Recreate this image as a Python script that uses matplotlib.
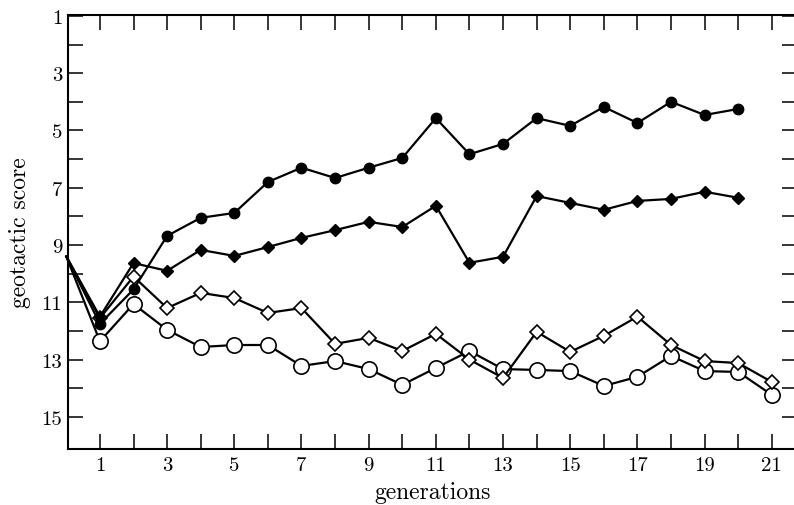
import matplotlib
matplotlib.use("Agg")
import matplotlib.pyplot as plt
from matplotlib.ticker import FixedLocator

plt.rcParams['font.family'] = ['cmr10', 'DejaVu Serif']
plt.rcParams['axes.formatter.use_mathtext'] = True
plt.rcParams['mathtext.fontset'] = 'cm'

generations = list(range(0, 22))

filled_circles = [9.4, 11.75, 10.55, 8.68, 8.05, 7.88, 6.8, 6.3, 6.66, 6.3, 5.96,
                  4.57, 5.83, 5.47, 4.57, 4.84, 4.18, 4.74, 4.0, 4.46, 4.25]
filled_diamonds = [9.4, 11.5, 9.63, 9.9, 9.17, 9.38, 9.07, 8.75, 8.48, 8.19, 8.37,
                   7.63, 9.62, 9.41, 7.29, 7.53, 7.77, 7.46, 7.39, 7.14, 7.35]
open_diamonds = [9.4, 11.55, 10.1, 11.2, 10.67, 10.85, 11.37, 11.2, 12.45, 12.24, 12.7,
                 12.1, 13.0, 13.64, 12.03, 12.73, 12.17, 11.5, 12.49, 13.05, 13.12, 13.78]
open_circles = [9.4, 12.36, 11.06, 11.96, 12.56, 12.49, 12.49, 13.22, 13.05, 13.33, 13.88,
                13.29, 12.7, 13.33, 13.36, 13.4, 13.92, 13.6, 12.87, 13.4, 13.43, 14.23]

x_tick_labels = [1, 3, 5, 7, 9, 11, 13, 15, 17, 19, 21]
y_tick_labels = [1, 3, 5, 7, 9, 11, 13, 15]

fig = plt.figure(figsize=(7.94, 5.06), dpi=100)
ax = fig.add_axes([68 / 794, 56 / 506, (797 - 68) / 794, (450 - 16) / 506])

lw = 1.6


def draw(vals, **kw):
    xs = generations[:len(vals)]
    ax.plot(xs, vals, color='black', lw=lw, markevery=list(range(1, len(vals))),
            clip_on=False, **kw)


draw(open_circles, marker='o', ms=11, mfc='white', mec='black', mew=1.2, zorder=3)
draw(open_diamonds, marker='D', ms=6.8, mfc='white', mec='black', mew=1.2, zorder=4)
draw(filled_diamonds, marker='D', ms=6.5, mfc='black', mec='black', zorder=5)
draw(filled_circles, marker='o', ms=7.5, mfc='black', mec='black', zorder=6)

ax.set_xlim(0.05, 21.75)
ax.set_ylim(16.12, 0.97)

ax.xaxis.set_major_locator(FixedLocator(x_tick_labels))
ax.xaxis.set_minor_locator(FixedLocator([v for v in range(2, 21, 2)]))
ax.yaxis.set_major_locator(FixedLocator(y_tick_labels))
ax.yaxis.set_minor_locator(FixedLocator([v for v in range(2, 16, 2)]))
ax.set_xticklabels([str(v) for v in x_tick_labels])
ax.set_yticklabels([str(v) for v in y_tick_labels])

ax.tick_params(which='both', direction='in', top=True, right=True, length=11,
               width=1.1, color='black')
ax.tick_params(axis='both', which='major', labelsize=15)
ax.tick_params(axis='x', pad=5)
ax.tick_params(axis='y', pad=4)

for s in ax.spines.values():
    s.set_linewidth(1.5)

ax.set_xlabel('generations', fontsize=17, labelpad=5)
ax.set_ylabel('geotactic score', fontsize=17, labelpad=8)

fig.savefig('out.png', dpi=100)
